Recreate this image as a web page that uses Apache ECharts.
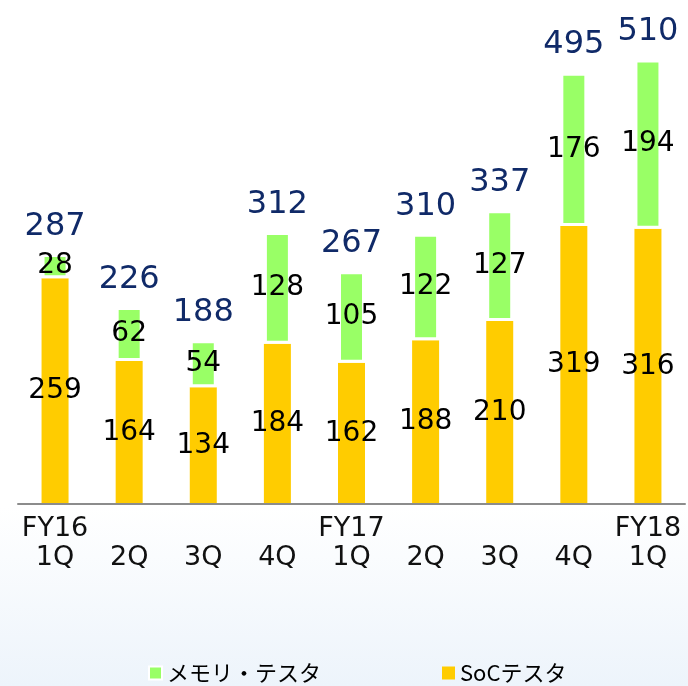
<!DOCTYPE html>
<html>
<head>
<meta charset="utf-8">
<script src="https://cdn.jsdelivr.net/npm/echarts@6/dist/echarts.min.js"></script>
<style>
  html, body { margin: 0; padding: 0; }
  #main { width: 688px; height: 686px; }
</style>
</head>
<body>
<div id="main"></div>
<script>
// 四半期データ
var years    = ['FY16', '', '', '', 'FY17', '', '', '', 'FY18'];
var quarters = ['1Q', '2Q', '3Q', '4Q', '1Q', '2Q', '3Q', '4Q', '1Q'];
var socTester    = [259, 164, 134, 184, 162, 188, 210, 319, 316];
var memoryTester = [28, 62, 54, 128, 105, 122, 127, 176, 194];
var totals       = [287, 226, 188, 312, 267, 310, 337, 495, 510];

var categories = quarters.map(function (q, i) { return i; });

var myChart = echarts.init(document.getElementById('main'));
myChart.setOption({
    backgroundColor: {
        type: 'linear', x: 0, y: 0, x2: 0, y2: 1,
        colorStops: [
            { offset: 0, color: '#ffffff' },
            { offset: 0.74, color: '#ffffff' },
            { offset: 1, color: '#edf4fb' }
        ]
    },
    animation: false,
    grid: { left: 18, right: 3, top: 16, bottom: 182 },
    legend: [
        {
            data: ['メモリ・テスタ'],
            left: 143, top: 657,
            itemWidth: 13, itemHeight: 13, itemGap: 10,
            icon: 'rect',
            textStyle: { fontSize: 22, color: '#000', fontFamily: 'Noto Sans CJK JP' }
        },
        {
            data: ['SoCテスタ'],
            left: 437, top: 657,
            itemWidth: 13, itemHeight: 13, itemGap: 10,
            icon: 'rect',
            textStyle: { fontSize: 22, color: '#000', fontFamily: 'Noto Sans CJK JP' }
        }
    ],
    xAxis: {
        type: 'category',
        data: categories,
        z: 5,
        axisLine: { lineStyle: { color: '#8c8c8c', width: 2 } },
        axisTick: { show: false },
        axisLabel: {
            interval: 0,
            margin: 10,
            fontSize: 27,
            lineHeight: 29,
            color: '#111',
            fontFamily: 'DejaVu Sans',
            formatter: function (v) {
                return (years[v] || ' ') + '\n' + quarters[v];
            }
        }
    },
    yAxis: {
        type: 'value',
        min: 0, max: 560,
        show: false,
        splitLine: { show: false }
    },
    series: [
        {
            name: 'SoCテスタ',
            type: 'bar',
            stack: 'total',
            barWidth: 27,
            itemStyle: { color: '#ffcc00' },
            label: {
                show: true, position: 'inside',
                fontSize: 28, color: '#000', fontFamily: 'DejaVu Sans'
            },
            data: socTester
        },
        {
            name: 'メモリ・テスタ',
            type: 'bar',
            stack: 'total',
            barWidth: 27,
            itemStyle: { color: '#99ff66', borderColor: '#ffffff', borderWidth: 3 },
            label: {
                show: true, position: 'inside',
                fontSize: 28, color: '#000', fontFamily: 'DejaVu Sans'
            },
            data: memoryTester
        },
        {
            name: 'total',
            type: 'scatter',
            symbolSize: 1,
            itemStyle: { color: 'rgba(0,0,0,0)', opacity: 1 },
            label: {
                show: true, position: 'top', distance: 11,
                fontSize: 32, color: '#102a68', fontFamily: 'DejaVu Sans'
            },
            data: totals
        }
    ]
});
</script>
</body>
</html>
